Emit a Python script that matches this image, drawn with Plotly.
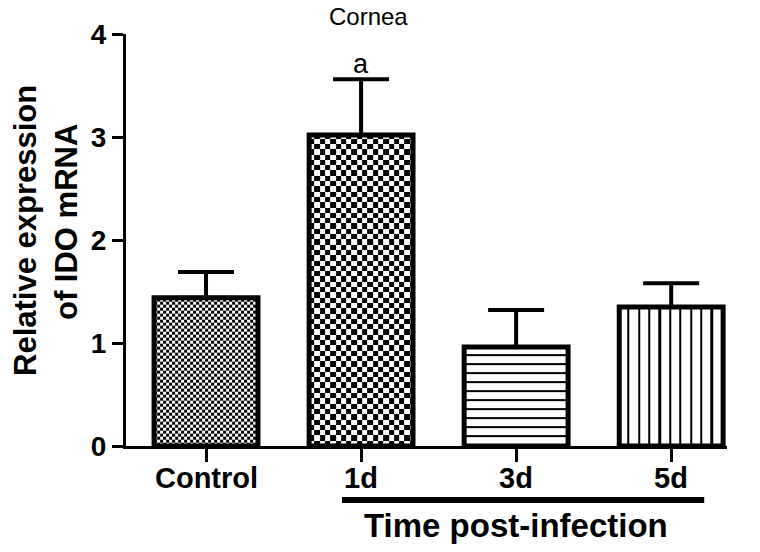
import numpy as np
import plotly.graph_objects as go

# ---- data ----
categories = ["Control", "1d", "3d", "5d"]
means = [1.44, 3.02, 0.96, 1.35]
errors = [0.25, 0.54, 0.36, 0.23]
y_ticks = [0, 1, 2, 3, 4]
sig_labels = ["", "a", "", ""]
title_text = "Cornea"
y_title_lines = ["Relative expression", "of IDO mRNA"]
x_group_title = "Time post-infection"

# ---- geometry ----
W, H = 760, 552
ml, mr, mt, mb = 126, 33, 34, 106
x_range = [-0.516, 3.36]
y_range = [0, 4]
PW, PH = W - ml - mr, H - mt - mb
px_per_x = PW / (x_range[1] - x_range[0])
px_per_y = PH / (y_range[1] - y_range[0])
bar_w = 0.67

FONT = "Arial, Liberation Sans, sans-serif"
GRAY = [[0, "white"], [1, "black"]]

fig = go.Figure()


def add_tex(x_edges, y_edges, z):
    fig.add_trace(go.Heatmap(
        x=x_edges, y=y_edges, z=z, zmin=0, zmax=1, zsmooth=False,
        colorscale=GRAY, showscale=False, hoverinfo="skip"))


# checkerboard textures (cell size in px)
checker_cells = {0: 3.0, 1: 5.3}
for idx, cell_px in checker_cells.items():
    left, right = idx - bar_w / 2, idx + bar_w / 2
    xe = np.append(np.arange(left, right, cell_px / px_per_x), right)
    ye = np.append(np.arange(0, means[idx], cell_px / px_per_y), means[idx])
    z = (np.add.outer(np.arange(len(ye) - 1), np.arange(len(xe) - 1)) % 2).astype(float)
    add_tex(xe, ye, z)

# horizontal stripes (3d): line ~2px, period 9px, measured from top
idx = 2
left, right = idx - bar_w / 2, idx + bar_w / 2
period, thick = 9.0 / px_per_y, 2.2 / px_per_y
edges, zz = [means[idx]], []
cur = means[idx]
while cur > 0:
    nxt = max(cur - (period - thick), 0)
    edges.append(nxt); zz.append(0)
    cur = nxt
    if cur <= 0:
        break
    nxt = max(cur - thick, 0)
    edges.append(nxt); zz.append(1)
    cur = nxt
ye = np.array(edges[::-1])
z = np.array(zz[::-1], dtype=float).reshape(-1, 1)
add_tex([left, right], ye, z)

# vertical stripes (5d): line ~2px, period 10.4px
idx = 3
left, right = idx - bar_w / 2, idx + bar_w / 2
period, thick = 10.4 / px_per_x, 2.2 / px_per_x
edges, zz = [left], []
cur = left
while cur < right:
    nxt = min(cur + (period - thick), right)
    edges.append(nxt); zz.append(0)
    cur = nxt
    if cur >= right:
        break
    nxt = min(cur + thick, right)
    edges.append(nxt); zz.append(1)
    cur = nxt
xe = np.array(edges)
z = np.array(zz, dtype=float).reshape(1, -1)
add_tex(xe, [0, means[idx]], z)

fig.add_trace(go.Bar(
    x=list(range(len(categories))), y=means, width=bar_w,
    marker=dict(color="rgba(0,0,0,0)", line=dict(color="black", width=5)),
    error_y=dict(type="data", array=errors, arrayminus=[0] * len(errors),
                 symmetric=False, color="black", thickness=4, width=28),
    showlegend=False,
))

# significance label
for i, lab in enumerate(sig_labels):
    if lab:
        fig.add_annotation(x=i, y=means[i] + errors[i], text=lab, showarrow=False,
                           xref="x", yref="y", yanchor="bottom", yshift=-2,
                           font=dict(family=FONT, size=27, color="black"))

# x tick labels as annotations (closer to axis like the reference)
for i, c in enumerate(categories):
    fig.add_annotation(x=i, y=(H - mb - 478) / PH, xref="x", yref="paper",
                       text="<b>" + c + "</b>", showarrow=False,
                       xanchor="center", yanchor="middle",
                       font=dict(family=FONT, size=29, color="black"))

# title
fig.add_annotation(x=(368 - ml) / PW, y=(H - mb - 17) / PH,
                   xref="paper", yref="paper", text=title_text, showarrow=False,
                   xanchor="center", yanchor="middle",
                   font=dict(family=FONT, size=24, color="black"))

# y-axis title (two lines)
for (px_x, px_y), line in zip([(25, 231), (66, 222)], y_title_lines):
    fig.add_annotation(x=(px_x - ml) / PW, y=(H - mb - px_y) / PH,
                       xref="paper", yref="paper", text="<b>" + line + "</b>",
                       showarrow=False, textangle=-90, xanchor="center", yanchor="middle",
                       font=dict(family=FONT, size=31, color="black"))

# group underline and label
fig.add_shape(type="line", xref="x", yref="paper",
              x0=0.877, x1=3.213,
              y0=(H - mb - 500) / PH, y1=(H - mb - 500) / PH,
              line=dict(color="black", width=6))
fig.add_annotation(x=(516 - ml) / PW, y=(H - mb - 525) / PH,
                   xref="paper", yref="paper", text="<b>" + x_group_title + "</b>",
                   showarrow=False, xanchor="center", yanchor="middle",
                   font=dict(family=FONT, size=33, color="black"))

fig.update_layout(
    width=W, height=H,
    margin=dict(l=ml, r=mr, t=mt, b=mb),
    paper_bgcolor="white", plot_bgcolor="white",
    showlegend=False,
    xaxis=dict(range=x_range, tickvals=list(range(len(categories))),
               showticklabels=False,
               showgrid=False, zeroline=False, showline=True, linecolor="black",
               linewidth=3, ticks="outside", ticklen=13, tickwidth=3,
               tickcolor="black"),
    yaxis=dict(range=y_range, tickvals=y_ticks,
               ticktext=["<b>%d</b>" % v for v in y_ticks],
               showgrid=False, zeroline=False, showline=True, linecolor="black",
               linewidth=3, ticks="outside", ticklen=11, tickwidth=3,
               tickcolor="black", tickfont=dict(family=FONT, size=28, color="black")),
)

fig.write_html("out.html", config={"displayModeBar": False},
               post_script="document.body.style.margin='0';")
